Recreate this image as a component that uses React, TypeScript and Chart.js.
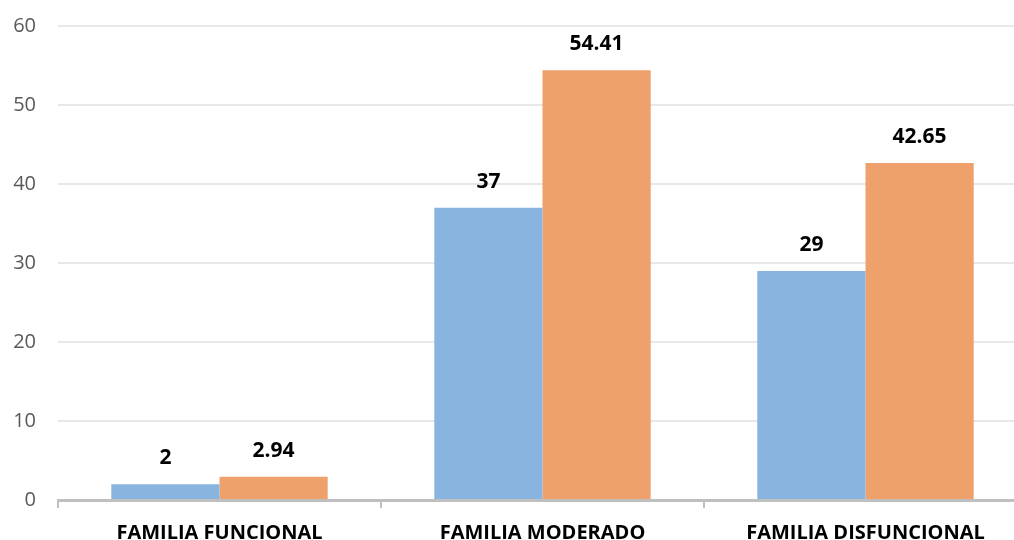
import React, { useEffect, useRef } from "react";
import { Chart, registerables } from "chart.js";

Chart.register(...registerables);

const categories = ["FAMILIA FUNCIONAL", "FAMILIA MODERADO", "FAMILIA DISFUNCIONAL"];
const seriesA = [2, 37, 29];
const seriesB = [2.94, 54.41, 42.65];
const yTicks = [0, 10, 20, 30, 40, 50, 60];

const FONT = "'Open Sans', 'Noto Sans', sans-serif";

const labelPlugin = {
  id: "barLabels",
  afterDatasetsDraw(chart: any) {
    const ctx = chart.ctx;
    ctx.save();
    ctx.font = `bold 21px ${FONT}`;
    ctx.fillStyle = "#000000";
    ctx.textAlign = "center";
    ctx.textBaseline = "alphabetic";
    chart.data.datasets.forEach((ds: any, i: number) => {
      const meta = chart.getDatasetMeta(i);
      meta.data.forEach((el: any, j: number) => {
        ctx.fillText(String(ds.data[j]), el.x, el.y - 20);
      });
    });
    ctx.restore();
  },
};

export default function App() {
  const ref = useRef<HTMLCanvasElement>(null);
  useEffect(() => {
    if (!ref.current) return;
    const chart = new Chart(ref.current, {
      type: "bar",
      data: {
        labels: categories,
        datasets: [
          { label: "A", data: seriesA, backgroundColor: "#89B4DF", barPercentage: 1, categoryPercentage: 0.67 },
          { label: "B", data: seriesB, backgroundColor: "#EEA16B", barPercentage: 1, categoryPercentage: 0.67 },
        ],
      },
      options: {
        responsive: false,
        animation: false,
        devicePixelRatio: 1,
        layout: { padding: { top: 25, right: 13, left: 0, bottom: 0 } },
        plugins: { legend: { display: false }, tooltip: { enabled: false } },
        scales: {
          x: {
            grid: { display: true, drawOnChartArea: false, drawTicks: true, tickLength: 8, color: "#BFBFBF", lineWidth: 2, offset: true },
            border: { display: true, color: "#BFBFBF", width: 3 },
            ticks: { color: "#000000", font: { family: FONT, size: 20, weight: "bold" }, padding: 13, maxRotation: 0 },
            afterFit: (s: any) => { s.height = 52; },
          },
          y: {
            min: 0,
            max: 60,
            afterBuildTicks: (s: any) => { s.ticks = yTicks.map((v) => ({ value: v })); },
            grid: { color: "#E8E8E8", lineWidth: 2, drawTicks: false },
            border: { display: false },
            ticks: { color: "#595959", font: { family: FONT, size: 20 }, padding: 22 },
            afterFit: (s: any) => { s.width = 58; },
          },
        },
      },
      plugins: [labelPlugin],
    });
    return () => chart.destroy();
  }, []);
  return (
    <div style={{ position: "fixed", left: 0, top: 0, width: 1014, height: 540, overflow: "hidden", background: "#fff" }}>
      <canvas ref={ref} width={1040} height={560} style={{ display: "block", marginTop: -8 }} />
    </div>
  );
}
